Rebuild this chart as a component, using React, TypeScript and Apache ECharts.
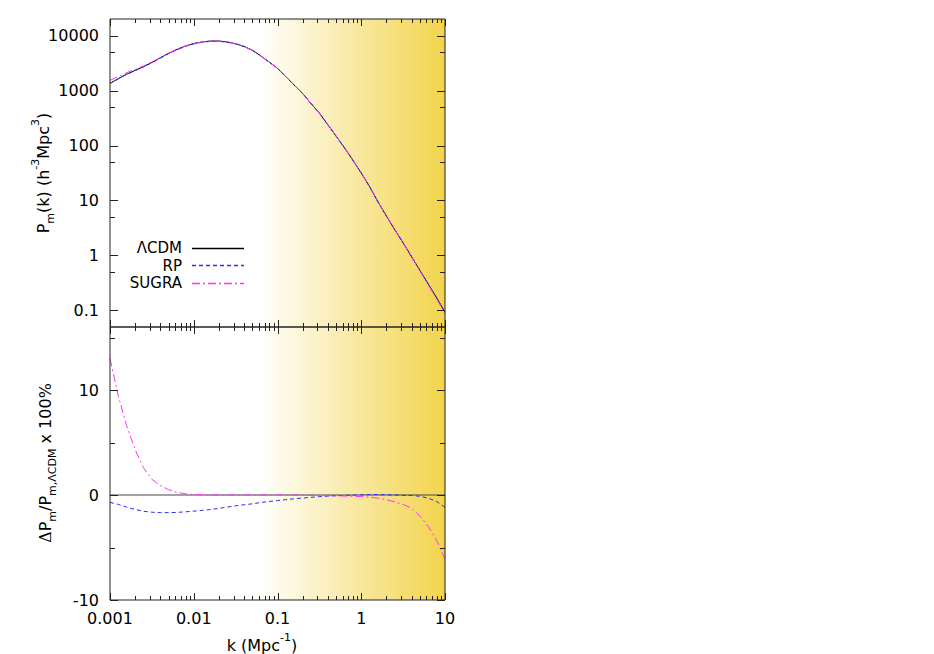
import React, { useEffect, useRef } from "react";
import * as echarts from "echarts";

// wavenumbers k (Mpc^-1), log spaced 0.001 .. 10
const kValues = [
  0.001, 0.00126, 0.00158, 0.002, 0.00251, 0.00316, 0.00398, 0.00501, 0.00631, 0.00794,
  0.01, 0.0126, 0.0158, 0.02, 0.0251, 0.0316, 0.0398, 0.0501, 0.0631, 0.0794,
  0.1, 0.126, 0.158, 0.2, 0.251, 0.316, 0.398, 0.501, 0.631, 0.794,
  1, 1.26, 1.58, 2, 2.51, 3.16, 3.98, 5.01, 6.31, 7.94, 10,
];

// matter power spectrum of LambdaCDM, P_m(k) (h^-3 Mpc^3)
const pLCDM = [
  1350, 1650, 1980, 2330, 2720, 3250, 3940, 4760, 5600, 6450,
  7160, 7650, 7950, 7950, 7650, 7100, 6350, 5410, 4270, 3310,
  2540, 1780, 1260, 880, 582, 389, 240, 148, 91, 54,
  31.6, 17.8, 9.5, 5.2, 2.95, 1.7, 0.955, 0.537, 0.302, 0.17, 0.093,
];

// relative difference to LambdaCDM, percent
const rpDelta = [
  -0.7, -0.9, -1.15, -1.38, -1.55, -1.64, -1.68, -1.68, -1.66, -1.6,
  -1.54, -1.47, -1.38, -1.27, -1.15, -1.03, -0.93, -0.84, -0.72, -0.62,
  -0.53, -0.44, -0.36, -0.29, -0.22, -0.16, -0.11, -0.07, -0.04, -0.01,
  0.02, 0.04, 0.04, 0.03, 0.0, -0.03, -0.05, -0.12, -0.3, -0.62, -1.18,
];
const sugraDelta = [
  13.0, 9.4, 6.6, 4.3, 2.6, 1.5, 0.9, 0.5, 0.25, 0.12,
  0.05, 0.02, 0.0, 0.0, 0.0, 0.0, 0.0, 0.0, 0.0, 0.0,
  0.0, 0.0, -0.01, -0.02, -0.03, -0.05, -0.06, -0.08, -0.1, -0.12,
  -0.15, -0.2, -0.3, -0.45, -0.65, -0.9, -1.25, -2.0, -3.0, -4.3, -6.1,
];
const lcdmDelta = [0, 0];
const lcdmDeltaK = [0.001, 10];

// shaded k band (nonlinear regime)
const shadedBand = [0.06, 10];

// tick values
const xMajorTicks = [0.001, 0.01, 0.1, 1, 10];
const xMinorTicks = [
  0.002, 0.003, 0.004, 0.005, 0.006, 0.007, 0.008, 0.009,
  0.02, 0.03, 0.04, 0.05, 0.06, 0.07, 0.08, 0.09,
  0.2, 0.3, 0.4, 0.5, 0.6, 0.7, 0.8, 0.9,
  2, 3, 4, 5, 6, 7, 8, 9,
];
const yTopMajorTicks = [0.1, 1, 10, 100, 1000, 10000];
const yTopMinorTicks = [0.5, 5, 50, 500, 5000];
const yBotMajorTicks = [-10, 0, 10];
const yBotMinorTicks = [-5, 5, 15];

const seriesNames = ["\u039BCDM", "RP", "SUGRA"];

const FONT = "DejaVu Sans";
const AXIS_COLOR = "#222";
const RP_COLOR = "#2c2cff";
const SUGRA_COLOR = "#ff33ff";

function powLabel(v: number): string {
  const l = Math.log10(v);
  const e = Math.round(l);
  if (Math.abs(l - e) > 0.01) return "";
  const p = Math.pow(10, e);
  return e >= 0 ? String(p) : p.toFixed(-e);
}

function renderXTicks(params: any, api: any) {
  const cs = params.coordSys;
  const p = api.coord([api.value(0), api.value(1)]);
  const len = api.value(2) ? 7 : 4;
  const x = Math.round(p[0]) + 0.5;
  const style = { stroke: AXIS_COLOR, lineWidth: 1 };
  return {
    type: "group",
    children: [
      { type: "line", shape: { x1: x, y1: cs.y, x2: x, y2: cs.y + len }, style },
      { type: "line", shape: { x1: x, y1: cs.y + cs.height, x2: x, y2: cs.y + cs.height - len }, style },
    ],
  };
}

function renderYTicks(params: any, api: any) {
  const cs = params.coordSys;
  const p = api.coord([api.value(0), api.value(1)]);
  const len = api.value(2) ? 8 : 5;
  const y = Math.round(p[1]) + 0.5;
  const style = { stroke: AXIS_COLOR, lineWidth: 1 };
  return {
    type: "group",
    children: [
      { type: "line", shape: { x1: cs.x, y1: y, x2: cs.x + len, y2: y }, style },
      { type: "line", shape: { x1: cs.x + cs.width, y1: y, x2: cs.x + cs.width - len, y2: y }, style },
    ],
  };
}

export default function App() {
  const ref = useRef<HTMLDivElement>(null);

  useEffect(() => {
    if (!ref.current) return;
    const chart = echarts.init(ref.current, undefined, { renderer: "svg" });

    const lcdmTop = kValues.map((k, i) => [k, pLCDM[i]]);
    const rpTop = kValues.map((k, i) => [k, pLCDM[i] * (1 + rpDelta[i] / 100)]);
    const sugraTop = kValues.map((k, i) => [k, pLCDM[i] * (1 + sugraDelta[i] / 100)]);
    const rpBot = kValues.map((k, i) => [k, rpDelta[i]]);
    const sugraBot = kValues.map((k, i) => [k, sugraDelta[i]]);
    const lcdmBot = lcdmDeltaK.map((k, i) => [k, lcdmDelta[i]]);

    const gradient = {
      type: "linear",
      x: 0,
      y: 0,
      x2: 1,
      y2: 0,
      colorStops: [
        { offset: 0, color: "rgba(255,255,255,1)" },
        { offset: 1, color: "#f3d44c" },
      ],
    };

    const bandSeries = (idx: number, yRef: number) => ({
      type: "line",
      xAxisIndex: idx,
      yAxisIndex: idx,
      data: [[shadedBand[0], yRef]],
      showSymbol: false,
      lineStyle: { opacity: 0 },
      silent: true,
      z: 1,
      markArea: {
        silent: true,
        itemStyle: { color: gradient, borderWidth: 0 },
        data: [[{ xAxis: shadedBand[0] }, { xAxis: shadedBand[1] }]],
      },
    });

    const tickSeries = (idx: number, xRef: number, yRef: number, xs: [number[], number[]], ys: [number[], number[]]) => [
      {
        type: "custom",
        xAxisIndex: idx,
        yAxisIndex: idx,
        silent: true,
        clip: false,
        z: 8,
        renderItem: renderXTicks,
        encode: { x: 0, y: 1 },
        data: xs[0].map((v) => [v, yRef, 1]).concat(xs[1].map((v) => [v, yRef, 0])),
      },
      {
        type: "custom",
        xAxisIndex: idx,
        yAxisIndex: idx,
        silent: true,
        clip: false,
        z: 8,
        renderItem: renderYTicks,
        encode: { x: 0, y: 1 },
        data: ys[0].map((v) => [xRef, v, 1]).concat(ys[1].map((v) => [xRef, v, 0])),
      },
    ];

    const labelStyle = { fontFamily: FONT, fontSize: 16, color: "#000" };
    const rich = {
      n: { fontFamily: FONT, fontSize: 16, lineHeight: 26, verticalAlign: "middle", color: "#000" },
      sup: { fontFamily: FONT, fontSize: 11, lineHeight: 13, verticalAlign: "top", color: "#000" },
      sub: { fontFamily: FONT, fontSize: 11, lineHeight: 13, verticalAlign: "bottom", color: "#000" },
      g: { fontFamily: "DejaVu Serif", fontSize: 16, lineHeight: 26, verticalAlign: "middle", color: "#000" },
    };

    const legendText = (name: string, y: number) => ({
      type: "text",
      x: 182,
      y,
      style: { text: name, font: `15px "${FONT}"`, fill: "#000", align: "right", verticalAlign: "middle" },
      z: 20,
    });
    const legendLine = (y: number, color: string, dash: number[] | null) => ({
      type: "line",
      shape: { x1: 192, y1: y, x2: 244, y2: y },
      style: dash
        ? { stroke: color, lineWidth: 1.3, lineDash: dash }
        : { stroke: color, lineWidth: 1.3 },
      z: 20,
    });

    const option: any = {
      animation: false,
      backgroundColor: "#fff",
      grid: [
        { left: 110, top: 19, width: 335, height: 308, show: true, borderColor: AXIS_COLOR, borderWidth: 1, backgroundColor: "transparent", z: 6 },
        { left: 110, top: 327, width: 335, height: 273, show: true, borderColor: AXIS_COLOR, borderWidth: 1, backgroundColor: "transparent", z: 6 },
      ],
      xAxis: [
        {
          type: "log", logBase: 10, gridIndex: 0, min: 0.001, max: 10, splitNumber: 4,
          axisLine: { show: false }, axisTick: { show: false }, splitLine: { show: false },
          axisLabel: { show: false },
        },
        {
          type: "log", logBase: 10, gridIndex: 1, min: 0.001, max: 10, splitNumber: 4,
          axisLine: { show: false }, axisTick: { show: false }, splitLine: { show: false },
          axisLabel: { ...labelStyle, margin: 10, formatter: (v: number) => powLabel(v) },
        },
      ],
      yAxis: [
        {
          type: "log", logBase: 10, gridIndex: 0, min: 0.05, max: 20000, splitNumber: 6,
          axisLine: { show: false }, axisTick: { show: false }, splitLine: { show: false },
          axisLabel: { ...labelStyle, margin: 11, formatter: (v: number) => powLabel(v) },
        },
        {
          type: "value", gridIndex: 1, min: -10, max: 16, interval: 10,
          axisLine: { show: false }, axisTick: { show: false }, splitLine: { show: false },
          axisLabel: {
            ...labelStyle, margin: 11,
            formatter: (v: number) => (Math.abs(v % 10) < 1e-9 ? String(v) : ""),
          },
        },
      ],
      series: [
        bandSeries(0, 1),
        bandSeries(1, 0),
        {
          name: seriesNames[0], type: "line", xAxisIndex: 0, yAxisIndex: 0, data: lcdmTop,
          showSymbol: false, z: 3, lineStyle: { color: "#000", width: 1 },
        },
        {
          name: seriesNames[1], type: "line", xAxisIndex: 0, yAxisIndex: 0, data: rpTop,
          showSymbol: false, z: 3, lineStyle: { color: RP_COLOR, width: 1, type: [4, 3] },
        },
        {
          name: seriesNames[2], type: "line", xAxisIndex: 0, yAxisIndex: 0, data: sugraTop,
          showSymbol: false, z: 3, lineStyle: { color: SUGRA_COLOR, width: 1, type: [8, 3, 2, 3] },
        },
        {
          name: seriesNames[0], type: "line", xAxisIndex: 1, yAxisIndex: 1, data: lcdmBot,
          showSymbol: false, z: 3, lineStyle: { color: "#444", width: 1 },
        },
        {
          name: seriesNames[1], type: "line", xAxisIndex: 1, yAxisIndex: 1, data: rpBot,
          showSymbol: false, z: 3, lineStyle: { color: RP_COLOR, width: 1, type: [4, 3] },
        },
        {
          name: seriesNames[2], type: "line", xAxisIndex: 1, yAxisIndex: 1, data: sugraBot,
          showSymbol: false, z: 3, lineStyle: { color: SUGRA_COLOR, width: 1, type: [8, 3, 2, 3] },
        },
        ...tickSeries(0, 0.1, 1, [xMajorTicks, xMinorTicks], [yTopMajorTicks, yTopMinorTicks]),
        ...tickSeries(1, 0.1, 0, [xMajorTicks, xMinorTicks], [yBotMajorTicks, yBotMinorTicks]),
      ],
      graphic: [
        legendText(seriesNames[0], 248),
        legendText(seriesNames[1], 265.5),
        legendText(seriesNames[2], 283),
        legendLine(248.5, "#000", null),
        legendLine(265.5, RP_COLOR, [4, 3]),
        legendLine(283.5, SUGRA_COLOR, [8, 3, 2, 3]),
        {
          type: "text",
          x: 43,
          y: 173,
          rotation: Math.PI / 2,
          style: {
            text: "{n|P}{sub|m}{n|(k) (h}{sup|-3}{n|Mpc}{sup|3}{n|)}",
            rich,
            align: "center",
            verticalAlign: "middle",
            fill: "#000",
          },
          z: 20,
        },
        {
          type: "text",
          x: 45,
          y: 463,
          rotation: Math.PI / 2,
          style: {
            text: "{g|\u0394}{n|P}{sub|m}{n|/P}{sub|m,\u039BCDM}{n| x 100%}",
            rich,
            align: "center",
            verticalAlign: "middle",
            fill: "#000",
          },
          z: 20,
        },
        {
          type: "text",
          x: 262,
          y: 645,
          style: {
            text: "{n|k (Mpc}{sup|-1}{n|)}",
            rich,
            align: "center",
            verticalAlign: "middle",
            fill: "#000",
          },
          z: 20,
        },
      ],
    };

    chart.setOption(option);
    return () => chart.dispose();
  }, []);

  return (
    <div
      ref={ref}
      style={{ position: "fixed", left: 0, top: 0, width: 934, height: 654, background: "#fff" }}
    />
  );
}
